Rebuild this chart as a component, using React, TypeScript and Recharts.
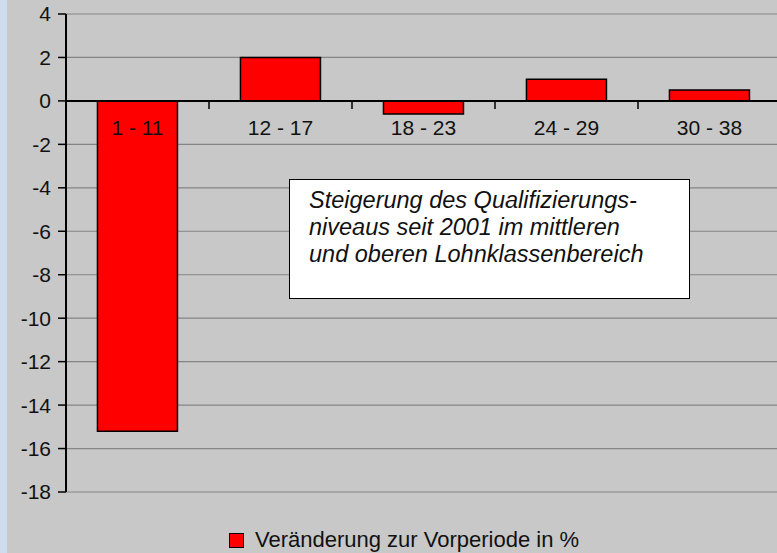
import React from 'react';
import {
  BarChart,
  Bar,
  XAxis,
  YAxis,
  CartesianGrid,
  ReferenceLine,
  LabelList,
  Legend,
} from 'recharts';

const categories = ['1 - 11', '12 - 17', '18 - 23', '24 - 29', '30 - 38'];
const changes = [-15.2, 2.0, -0.6, 1.0, 0.5];
const yTicks = [4, 2, 0, -2, -4, -6, -8, -10, -12, -14, -16, -18];
const seriesName = 'Veränderung zur Vorperiode in %';
const noteLines = [
  'Steigerung des Qualifizierungs-',
  'niveaus seit 2001 im mittleren',
  'und oberen Lohnklassenbereich',
];

const data = categories.map((c, i) => ({ category: c, value: changes[i] }));

const FONT = '"Liberation Sans", Arial, Helvetica, sans-serif';

const CategoryLabel = (props: any) => {
  const { x, y, width, height, value } = props;
  let idx = props.index;
  if (idx == null) idx = categories.indexOf(value);
  const v = changes[idx] ?? 0;
  let zeroY: number;
  if (v >= 0) zeroY = y + height;
  else zeroY = height < 0 ? y + height : y;
  return (
    <text
      x={x + width / 2}
      y={zeroY + 34}
      textAnchor="middle"
      fontFamily={FONT}
      fontSize={21}
      fill="#111"
    >
      {value}
    </text>
  );
};

const ZeroAxis = (props: any) => {
  const { x1, y1, x2, y2 } = props;
  const n = categories.length;
  const step = (x2 - x1) / n;
  const ticks = [];
  for (let i = 1; i < n; i++) {
    const tx = x1 + i * step;
    ticks.push(
      <line key={i} x1={tx} y1={y1} x2={tx} y2={y1 + 8} stroke="#000" strokeWidth={1.5} />
    );
  }
  return (
    <g>
      <line x1={x1} y1={y1} x2={x2} y2={y2} stroke="#000" strokeWidth={2} />
      {ticks}
    </g>
  );
};

const LegendContent = (props: any) => {
  const payload = props.payload || [];
  return (
    <div
      style={{
        height: 20,
        display: 'flex',
        alignItems: 'center',
        paddingLeft: 229,
        fontFamily: FONT,
        fontSize: 22,
        color: '#111',
      }}
    >
      {payload.map((p: any, i: number) => (
        <div key={i} style={{ display: 'flex', alignItems: 'center' }}>
          <span
            style={{
              display: 'inline-block',
              width: 13,
              height: 13,
              background: '#ff0000',
              border: '1.5px solid #000',
              marginRight: 11,
            }}
          />
          <span>{p.value}</span>
        </div>
      ))}
    </div>
  );
};

export default function App() {
  return (
    <div
      style={{
        position: 'fixed',
        left: 0,
        top: 0,
        width: 777,
        height: 553,
        overflow: 'hidden',
        background: '#cfdcee',
      }}
    >
      <div
        style={{
          position: 'absolute',
          left: 7,
          top: 0,
          width: 770,
          height: 553,
          background: '#c8c8c8',
        }}
      />
      <div style={{ position: 'absolute', left: 0, top: 0 }}>
        <BarChart
          width={800}
          height={553}
          data={data}
          margin={{ top: 14, right: 19, left: 0, bottom: 41 }}
          barCategoryGap="22%"
        >
          <CartesianGrid vertical={false} stroke="#858585" strokeWidth={1.2} />
          <XAxis dataKey="category" hide />
          <YAxis
            domain={[-18, 4]}
            ticks={yTicks}
            interval={0}
            width={66}
            tickSize={8}
            tickMargin={7}
            axisLine={{ stroke: '#000', strokeWidth: 2 }}
            tickLine={{ stroke: '#000', strokeWidth: 1.5 }}
            tick={{ fill: '#111', fontSize: 21, fontFamily: FONT }}
            allowDataOverflow
          />
          <Bar
            dataKey="value"
            name={seriesName}
            fill="#ff0000"
            stroke="#000"
            strokeWidth={1.5}
            isAnimationActive={false}
          >
            <LabelList dataKey="category" content={CategoryLabel} />
          </Bar>
          <ReferenceLine y={0} shape={ZeroAxis} />
          <Legend
            verticalAlign="bottom"
            wrapperStyle={{ top: 530, left: 0, width: 777, height: 20 }}
            content={LegendContent}
          />
        </BarChart>
      </div>
      <div
        style={{
          position: 'absolute',
          left: 289,
          top: 179,
          width: 401,
          height: 120,
          boxSizing: 'border-box',
          border: '1px solid #000',
          background: '#fff',
          paddingLeft: 19,
          paddingTop: 7,
          fontFamily: FONT,
          fontStyle: 'italic',
          fontSize: 23.5,
          lineHeight: '27px',
          color: '#111',
        }}
      >
        {noteLines.map((l, i) => (
          <div key={i} style={{ whiteSpace: 'nowrap' }}>
            {l}
          </div>
        ))}
      </div>
    </div>
  );
}
